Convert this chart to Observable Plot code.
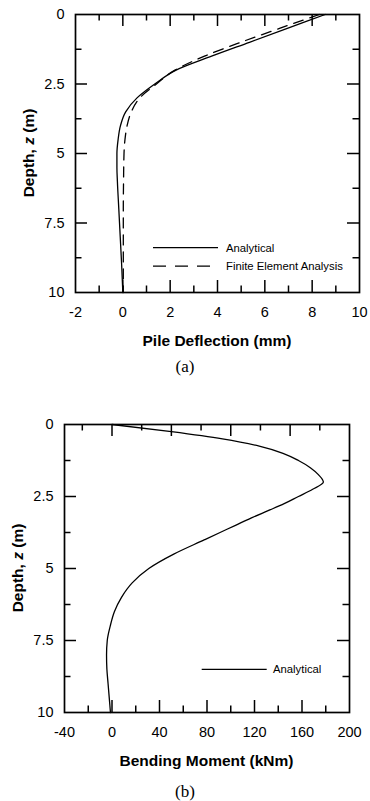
<!DOCTYPE html>
<html><head><meta charset="utf-8">
<script src="https://cdn.jsdelivr.net/npm/d3@7"></script>
<script src="https://cdn.jsdelivr.net/npm/@observablehq/plot@0.6"></script>
<style>
body{margin:0;background:#fff;}
#wrap{position:relative;width:370px;height:801px;overflow:hidden;background:#fff;}
.chart{position:absolute;left:0;}
.cap{position:absolute;left:0;width:370px;text-align:center;font-family:"Liberation Serif","Times New Roman",serif;font-size:17px;line-height:17px;color:#000;}
</style></head><body>
<div id="wrap"></div>
<script>
// ---- data ----
const depthA = [0, 0.5, 1, 1.5, 2, 2.5, 3, 3.5, 4, 4.5, 5, 5.5, 6, 7, 8, 9, 10];
const deflAnalytical = [8.55, 6.95, 5.35, 3.75, 2.25, 1.35, 0.6, 0.12, -0.1, -0.2, -0.25, -0.25, -0.23, -0.17, -0.11, -0.05, 0.0];
const depthF = [0, 0.5, 1, 1.5, 2, 2.5, 3, 3.5, 4, 4.5, 5, 6, 7, 8, 9, 10];
const deflFEA = [8.3, 6.62, 4.98, 3.45, 2.2, 1.42, 0.72, 0.36, 0.18, 0.09, 0.05, 0.03, 0.02, 0.02, 0.02, 0.02];
const depthM = [0, 0.25, 0.5, 0.75, 1, 1.25, 1.5, 1.75, 2, 2.25, 2.5, 2.75, 3, 3.25, 3.5, 3.75, 4, 4.5, 5, 5.5, 6, 6.5, 7, 7.5, 8, 8.5, 9, 9.5, 10];
const momentAnalytical = [0, 50, 93, 124, 144, 157, 167, 174, 178, 169, 157, 145, 131, 117, 104, 91, 78, 52, 31, 17, 8, 2, -1.5, -4, -4.6, -4.3, -3.3, -2.3, -1.3];

const yLabels = [0, 2.5, 5, 7.5, 10];
const yMinor = [1.25, 3.75, 6.25, 8.75];
const xLabelsA = [-2, 0, 2, 4, 6, 8, 10];
const xMinorA = [-1, 1, 3, 5, 7, 9];
const xLabelsB = [-40, 0, 40, 80, 120, 160, 200];
const xMinorB = [-20, 20, 60, 100, 140, 180];
const topMajorB = [0, 50, 100, 150];
const topMinorB = [-25, 25, 75, 125, 175];

const titleXA = "Pile Deflection (mm)";
const titleXB = "Bending Moment (kNm)";
const legendA = ["Analytical", "Finite Element Analysis"];
const legendB = ["Analytical"];

const FONT = "'Liberation Sans', Arial, Helvetica, sans-serif";
const wrap = document.getElementById("wrap");
const fmt = d => String(d);

function chart({top, height, mL, mR, mT, mB, xDomain, xLabels, xMajorBottom, xMinorBottom, xMajorTop, xMinorTop, series, titleX, legend}) {
  const W = 370 - mL - mR, H = height - mT - mB;
  const interior = (a) => a.filter(v => v > xDomain[0] && v < xDomain[1]);
  const yMajIn = yLabels.filter(v => v > 0 && v < 10);
  const LMAJ = 12, LMIN = 6.5, SW = 1.5;
  const marks = [
    // inward ticks
    Plot.tickX(interior(xMajorBottom), {x: d => d, insetTop: H - LMAJ, stroke: "black", strokeWidth: SW}),
    Plot.tickX(interior(xMinorBottom), {x: d => d, insetTop: H - LMIN, stroke: "black", strokeWidth: SW}),
    Plot.tickX(interior(xMajorTop), {x: d => d, insetBottom: H - LMAJ, stroke: "black", strokeWidth: SW}),
    Plot.tickX(interior(xMinorTop), {x: d => d, insetBottom: H - LMIN, stroke: "black", strokeWidth: SW}),
    Plot.tickY(yMajIn, {y: d => d, insetRight: W - LMAJ, stroke: "black", strokeWidth: SW}),
    Plot.tickY(yMinor, {y: d => d, insetRight: W - LMIN, stroke: "black", strokeWidth: SW}),
    Plot.tickY(yMajIn, {y: d => d, insetLeft: W - LMAJ, stroke: "black", strokeWidth: SW}),
    Plot.tickY(yMinor, {y: d => d, insetLeft: W - LMIN, stroke: "black", strokeWidth: SW}),
    Plot.axisX(xLabels, {anchor: "bottom", tickSize: 0, tickPadding: 14, label: null, fontSize: 14.5, fill: "black", tickFormat: fmt}),
    Plot.axisY(yLabels, {anchor: "left", tickSize: 0, tickPadding: 11, label: null, fontSize: 14.5, fill: "black", tickFormat: fmt}),
    ...series.map(s => Plot.line(s.depth.map((z, i) => ({z, v: s.values[i]})), {
      x: "v", y: "z", curve: "monotone-y", stroke: "black", strokeWidth: 1.3,
      strokeDasharray: s.dash || null
    })),
    Plot.frame({stroke: "black", strokeWidth: 1.7})
  ];
  const svg = Plot.plot({
    width: 370, height,
    marginLeft: mL, marginRight: mR, marginTop: mT, marginBottom: mB,
    x: {domain: xDomain},
    y: {domain: [0, 10], reverse: true},
    style: {fontFamily: FONT, fontSize: "14.5px", color: "black", background: "white"},
    marks
  });
  svg.classList.add("chart");
  svg.style.top = top + "px";
  wrap.appendChild(svg);
  const s = d3.select(svg);
  // axis titles
  s.append("text").attr("x", mL + W / 2).attr("y", mT + H + 48.5)
    .attr("text-anchor", "middle").attr("dominant-baseline", "central")
    .attr("font-family", FONT).attr("font-weight", "bold").attr("font-size", 15.5).attr("fill", "black")
    .text(titleX);
  const yt = s.append("text").attr("transform", `translate(${mL - 47},${mT + H / 2}) rotate(-90)`)
    .attr("text-anchor", "middle").attr("dominant-baseline", "central")
    .attr("font-family", FONT).attr("font-weight", "bold").attr("font-size", 15.5).attr("fill", "black");
  yt.append("tspan").text("Depth, ");
  yt.append("tspan").attr("font-style", "italic").text("z");
  yt.append("tspan").text(" (m)");
  // legend
  legend.items.forEach((it, i) => {
    const y = legend.y + i * legend.dy;
    s.append("line").attr("x1", legend.x1).attr("x2", legend.x2).attr("y1", y).attr("y2", y)
      .attr("stroke", "black").attr("stroke-width", 1.2).attr("stroke-dasharray", it.dash || null);
    s.append("text").attr("x", legend.tx).attr("y", y).attr("dominant-baseline", "central")
      .attr("text-anchor", "start")
      .attr("font-family", FONT).attr("font-size", 11.3).attr("fill", "black").text(it.label);
  });
}

chart({
  top: 0, height: 350, mL: 75, mR: 11, mT: 14, mB: 58,
  xDomain: [-2, 10], xLabels: xLabelsA,
  xMajorBottom: xLabelsA, xMinorBottom: xMinorA, xMajorTop: xLabelsA, xMinorTop: xMinorA,
  series: [
    {depth: depthA, values: deflAnalytical},
    {depth: depthF, values: deflFEA, dash: "10,7"}
  ],
  titleX: titleXA,
  legend: {x1: 153, x2: 218, tx: 226, y: 247.7, dy: 18.5,
    items: [{label: legendA[0]}, {label: legendA[1], dash: "13,9"}]}
});

chart({
  top: 410, height: 360, mL: 64, mR: 21, mT: 14, mB: 58,
  xDomain: [-40, 200], xLabels: xLabelsB,
  xMajorBottom: xLabelsB, xMinorBottom: xMinorB, xMajorTop: topMajorB, xMinorTop: topMinorB,
  series: [{depth: depthM, values: momentAnalytical}],
  titleX: titleXB,
  legend: {x1: 201.7, x2: 266.7, tx: 273, y: 259.3, dy: 18.5,
    items: [{label: legendB[0]}]}
});

const capA = document.createElement("div");
capA.className = "cap"; capA.style.top = "358px"; capA.textContent = "(a)";
wrap.appendChild(capA);
const capB = document.createElement("div");
capB.className = "cap"; capB.style.top = "783px"; capB.textContent = "(b)";
wrap.appendChild(capB);
</script>
</body></html>
